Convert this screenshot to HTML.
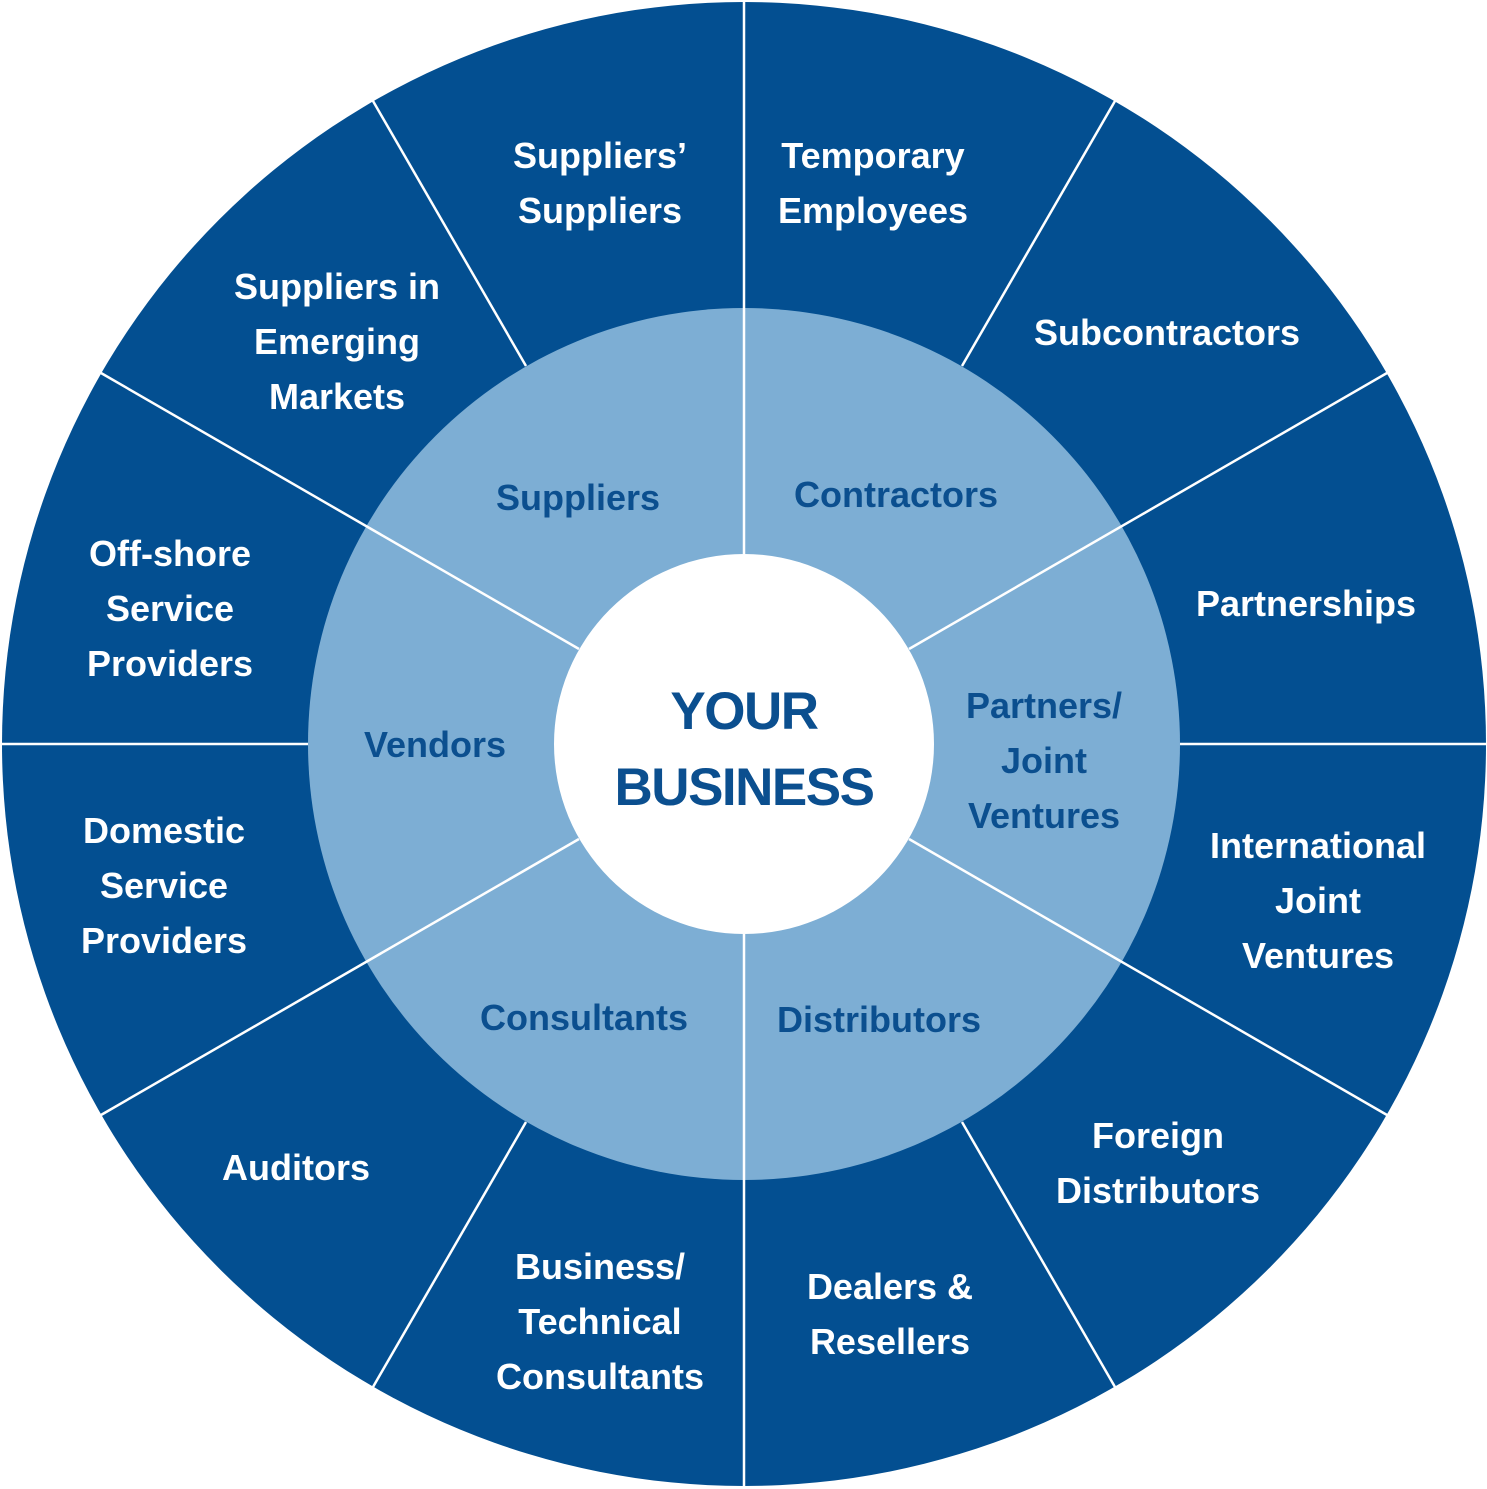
<!DOCTYPE html>
<html><head><meta charset="utf-8"><style>
html,body{margin:0;padding:0;background:#fff}
svg{display:block}
.o{font-family:"Liberation Sans",sans-serif;font-weight:bold;font-size:36px;fill:#fff;text-anchor:middle}
.i{font-family:"Liberation Sans",sans-serif;font-weight:bold;font-size:36px;fill:#0b4f8f;text-anchor:middle}
.c{font-family:"Liberation Sans",sans-serif;font-weight:bold;font-size:53px;fill:#0b4f8f;text-anchor:middle;letter-spacing:-1.5px}
</style></head><body>
<svg width="1487" height="1489" viewBox="0 0 1487 1489" xmlns="http://www.w3.org/2000/svg">
<circle cx="744" cy="744" r="742" fill="#034f91"/>
<circle cx="744" cy="744" r="436" fill="#7daed4"/>
<g stroke="#fff" stroke-width="2.5">
<line x1="1180" y1="744" x2="1487" y2="744"/>
<line x1="0" y1="744" x2="308" y2="744"/>
<line x1="962" y1="366" x2="1115" y2="101"/>
<line x1="526" y1="366" x2="373" y2="101"/>
<line x1="962" y1="1122" x2="1115" y2="1387"/>
<line x1="526" y1="1122" x2="373" y2="1387"/>
<line x1="744" y1="554" x2="744" y2="2"/>
<line x1="744" y1="934" x2="744" y2="1486"/>
<line x1="909" y1="649" x2="1387" y2="373"/>
<line x1="909" y1="839" x2="1387" y2="1115"/>
<line x1="579" y1="649" x2="101" y2="373"/>
<line x1="579" y1="839" x2="101" y2="1115"/>
</g>
<circle cx="744" cy="744" r="190" fill="#fff"/>
<text class="c" x="744" y="729">YOUR</text>
<text class="c" x="744" y="805">BUSINESS</text>
<text class="i" x="578" y="510">Suppliers</text>
<text class="i" x="896" y="507">Contractors</text>
<text class="i" x="435" y="757">Vendors</text>
<text class="i" x="1044" y="718">Partners/</text>
<text class="i" x="1044" y="773">Joint</text>
<text class="i" x="1044" y="828">Ventures</text>
<text class="i" x="584" y="1030">Consultants</text>
<text class="i" x="879" y="1032">Distributors</text>
<text class="o" x="600" y="168">Suppliers’</text>
<text class="o" x="600" y="223">Suppliers</text>
<text class="o" x="873" y="168">Temporary</text>
<text class="o" x="873" y="223">Employees</text>
<text class="o" x="337" y="299">Suppliers in</text>
<text class="o" x="337" y="354">Emerging</text>
<text class="o" x="337" y="409">Markets</text>
<text class="o" x="1167" y="345">Subcontractors</text>
<text class="o" x="170" y="566">Off-shore</text>
<text class="o" x="170" y="621">Service</text>
<text class="o" x="170" y="676">Providers</text>
<text class="o" x="1306" y="616">Partnerships</text>
<text class="o" x="164" y="843">Domestic</text>
<text class="o" x="164" y="898">Service</text>
<text class="o" x="164" y="953">Providers</text>
<text class="o" x="1318" y="858">International</text>
<text class="o" x="1318" y="913">Joint</text>
<text class="o" x="1318" y="968">Ventures</text>
<text class="o" x="296" y="1180">Auditors</text>
<text class="o" x="1158" y="1148">Foreign</text>
<text class="o" x="1158" y="1203">Distributors</text>
<text class="o" x="600" y="1279">Business/</text>
<text class="o" x="600" y="1334">Technical</text>
<text class="o" x="600" y="1389">Consultants</text>
<text class="o" x="890" y="1299">Dealers &amp;</text>
<text class="o" x="890" y="1354">Resellers</text>
</svg>
</body></html>
